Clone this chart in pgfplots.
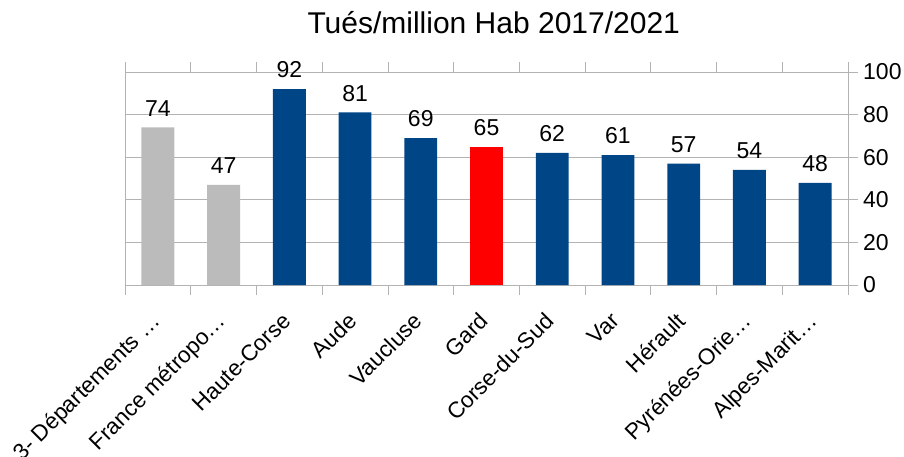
\documentclass[border=0pt]{standalone}
\usepackage{pgfplots}
\pgfplotsset{compat=1.18}
\usepackage{fontspec}
\setmainfont{Liberation Sans}
\definecolor{lobl}{HTML}{004586}
\definecolor{logr}{HTML}{BBBBBB}
\definecolor{grid}{HTML}{B3B3B3}
\begin{document}
\begin{tikzpicture}
\clip (-125pt,-172pt) rectangle (779pt,285pt);
\begin{axis}[
  at={(0,0)}, anchor=south west,
  scale only axis, width=723pt, height=213pt,
  clip=false,
  ybar, bar width=0.5, bar shift=0pt,
  xmin=-0.5, xmax=10.5, ymin=0, ymax=100,
  xtick={-0.5,0.5,...,10.5},
  x tick label as interval,
  xticklabels={3- Départements …,France métropo…,Haute-Corse,Aude,Vaucluse,Gard,Corse-du-Sud,Var,Hérault,Pyrénées-Orie…,Alpes-Marit…},
  xticklabel style={xshift=-8.5pt, yshift=-16pt, rotate=45, anchor=north east, inner sep=0pt, font=\fontsize{22.5}{27}\selectfont},
  ytick={0,20,...,100},
  ytick pos=right, yticklabel pos=right,
  yticklabel style={font=\fontsize{23}{27}\selectfont, anchor=west, inner sep=0pt, xshift=5pt},
  /pgf/number format/assume math mode=true,
  tick align=outside, major tick length=10pt,
  tick style={draw=grid, line width=0.8pt},
  ymajorgrids, grid style={draw=grid, line width=0.8pt},
  axis line style={draw=grid, line width=0.8pt},
  nodes near coords,
  every node near coord/.append style={font=\fontsize{23}{27}\selectfont, anchor=south, inner sep=0pt, yshift=11pt, text=black},
  title={Tués/million Hab 2017/2021},
  title style={at={(0.51,1)}, anchor=base, yshift=32pt, inner sep=0pt, font=\fontsize{30}{36}\selectfont},
]
\addplot[fill=logr, draw=none] coordinates {(0,74) (1,47)};
\addplot[fill=lobl, draw=none] coordinates {(2,92) (3,81) (4,69) (6,62) (7,61) (8,57) (9,54) (10,48)};
\addplot[fill=red, draw=none] coordinates {(5,65)};
\end{axis}
\end{tikzpicture}
\end{document}
